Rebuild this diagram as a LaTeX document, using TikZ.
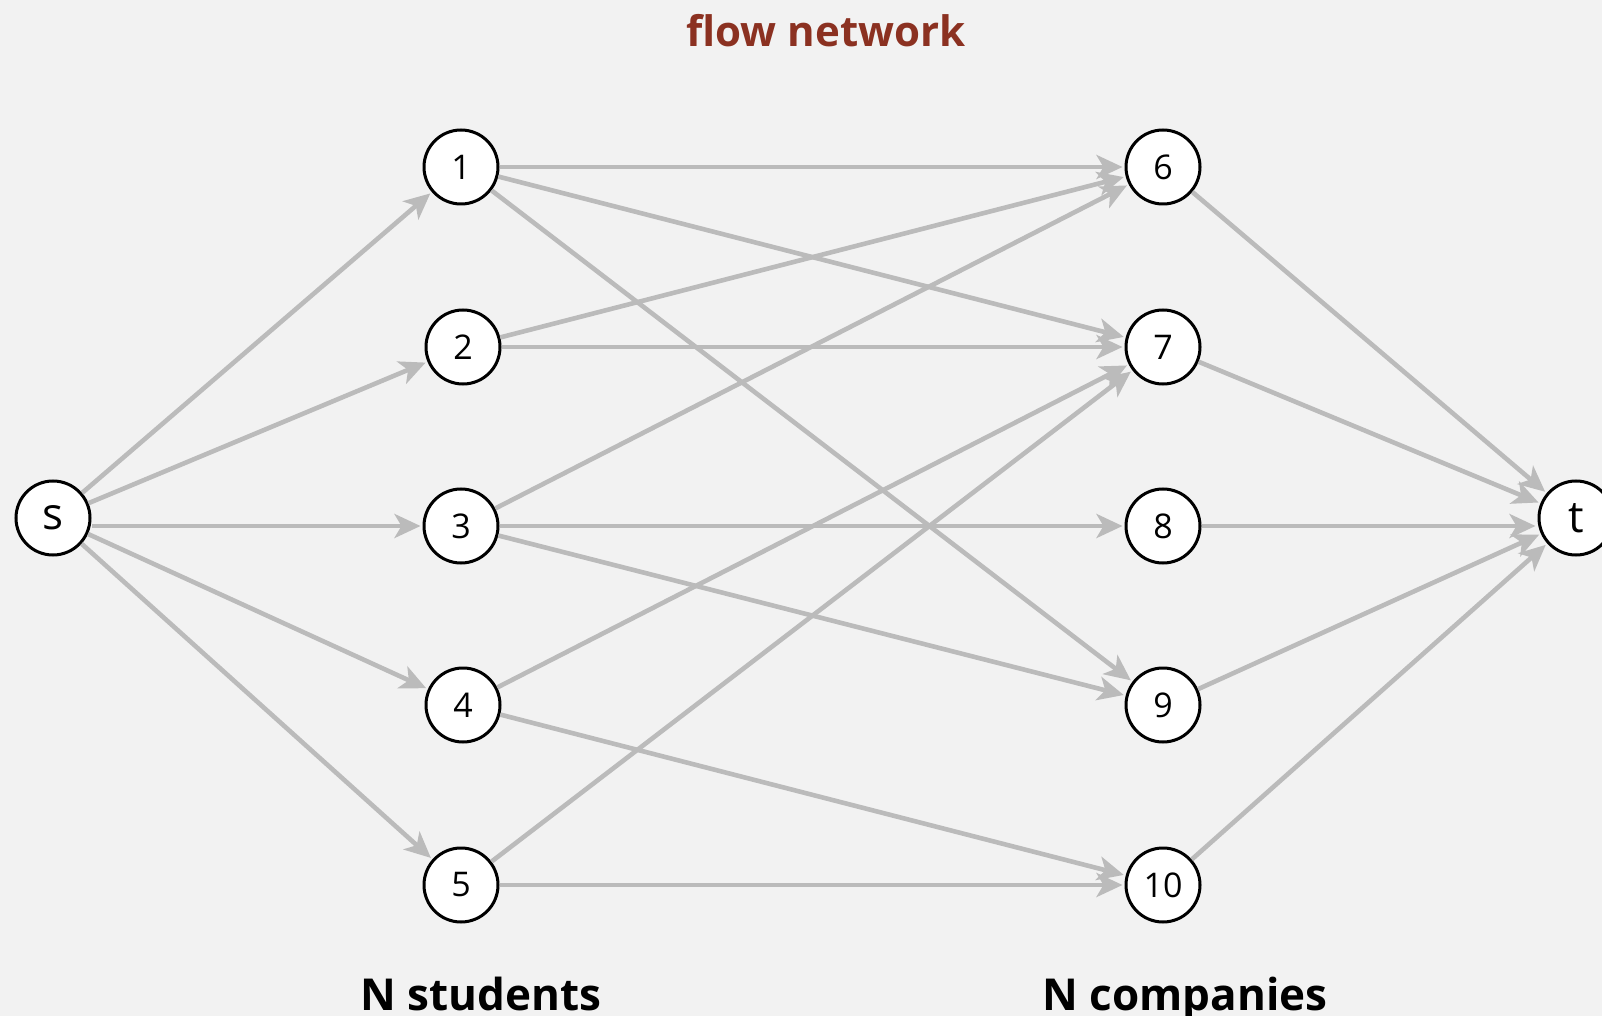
\documentclass[tikz,border=0pt]{standalone}
\usepackage{fontspec}
\setmainfont{Open Sans}
\usetikzlibrary{arrows.meta}
\definecolor{bgcol}{HTML}{F2F2F2}
\definecolor{edgecol}{HTML}{BBBBBB}
\definecolor{titlecol}{HTML}{8B3121}

\begin{document}
\begin{tikzpicture}[
    x=0.5pt,y=-0.5pt,
    vertex/.style={draw, circle, fill=white, line width=1.5pt, minimum size=37pt,
                   inner sep=0pt, font=\fontsize{17}{17}\selectfont},
    terminal/.style={vertex, font=\fontsize{22}{22}\selectfont},
    edge/.style={-{Stealth[length=13pt,width=12pt,inset=3.5pt]}, line width=2.3pt,
                 edgecol, shorten >=1pt},
    groupname/.style={font=\bfseries\fontsize{22}{22}\selectfont, anchor=base}
]
\fill[bgcol] (0,0) rectangle (1602,1016);
\useasboundingbox (0,0) rectangle (1602,1016);

\node[groupname, text=titlecol, font=\bfseries\fontsize{21}{21}\selectfont] (title) at (826,47) {flow network};

% source and sink
\node[terminal] (s) at (53,518) {s};
\node[terminal] (t) at (1576,518) {t};

% students
\node[vertex] (n1) at (461,167) {1};
\node[vertex] (n2) at (463,347) {2};
\node[vertex] (n3) at (461,526) {3};
\node[vertex] (n4) at (463,705) {4};
\node[vertex] (n5) at (461,885) {5};

% companies
\node[vertex] (n6) at (1163,167) {6};
\node[vertex] (n7) at (1163,347) {7};
\node[vertex] (n8) at (1163,526) {8};
\node[vertex] (n9) at (1163,705) {9};
\node[vertex] (n10) at (1163,885) {10};

\node[groupname] (students) at (481,1010) {N students};
\node[groupname] (companies) at (1185,1010) {N companies};

\draw[edge] (s) -- (n1);
\draw[edge] (s) -- (n2);
\draw[edge] (s.east |- n3) -- (n3);
\draw[edge] (s) -- (n4);
\draw[edge] (s) -- (n5);

\draw[edge] (n1) -- (n6);
\draw[edge] (n1) -- (n7);
\draw[edge] (n1) -- (n9);
\draw[edge] (n2) -- (n6);
\draw[edge] (n2) -- (n7);
\draw[edge] (n3) -- (n6);
\draw[edge] (n3) -- (n8);
\draw[edge] (n3) -- (n9);
\draw[edge] (n4) -- (n7);
\draw[edge] (n4) -- (n10);
\draw[edge] (n5) -- (n7);
\draw[edge] (n5) -- (n10);

\draw[edge] (n6) -- (t);
\draw[edge] (n7) -- (t);
\draw[edge] (n8) -- (t.west |- n8);
\draw[edge] (n9) -- (t);
\draw[edge] (n10) -- (t);
\end{tikzpicture}
\end{document}
